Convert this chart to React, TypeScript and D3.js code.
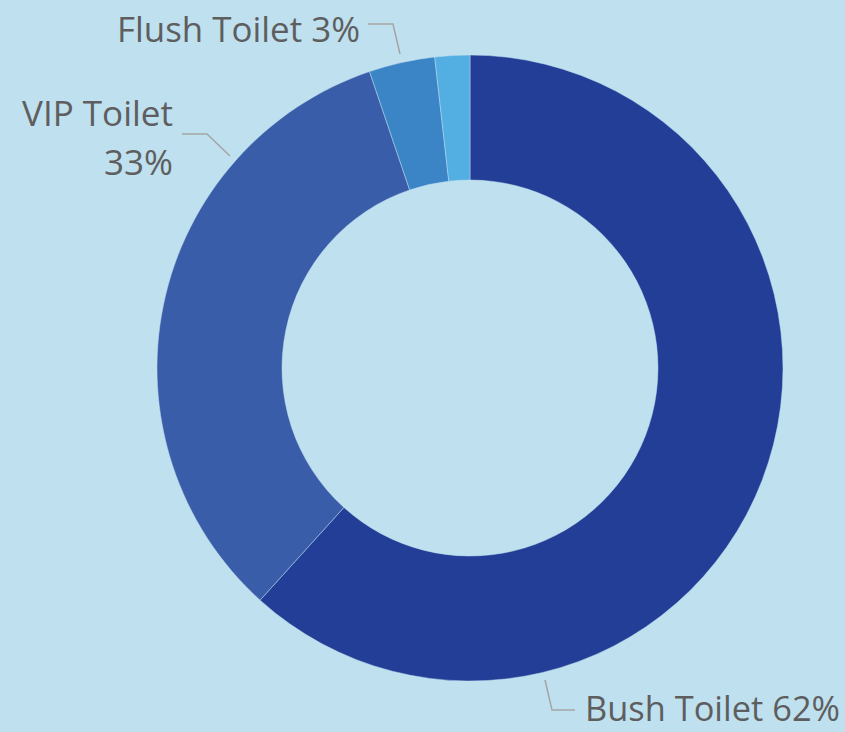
import React from "react";
import * as d3 from "d3";

const categories = ["Bush Toilet", "VIP Toilet", "Flush Toilet", "Other"];
const shares = [61.7, 33.1, 3.4, 1.8];
const colors = ["#233E97", "#3A5DAA", "#3B84C6", "#53AEE1"];
const showLabel = [true, true, true, false];

const W = 845;
const H = 732;
const CX = 470;
const CY = 368;
const R_OUT = 313;
const R_IN = 188;

// label layout (annotation placement, relative to the pie centre)
const labelLayout: Record<string, any> = {
  "Bush Toilet": {
    lines: (n: string, p: string) => [`${n} ${p}`],
    anchor: "start",
    x: 115, y: 353, width: 255, lineH: 49,
    leader: [[75, 312], [82, 342], [105, 342]],
  },
  "VIP Toilet": {
    lines: (n: string, p: string) => [n, p],
    anchor: "end",
    x: -297, y: -242, width: 151, lineH: 49,
    leader: [[-288, -234], [-263, -234], [-240, -212]],
  },
  "Flush Toilet": {
    lines: (n: string, p: string) => [`${n} ${p}`],
    anchor: "end",
    x: -110, y: -326, width: 243, lineH: 49,
    leader: [[-102, -344], [-77, -344], [-70, -314]],
  },
};

export default function App() {
  const data = categories.map((c, i) => ({ name: c, value: shares[i], color: colors[i], show: showLabel[i] }));
  const total = d3.sum(shares);
  const pie = d3.pie<any>().sort(null).value((d) => d.value).startAngle(0).endAngle(2 * Math.PI);
  const arcs = pie(data);
  const arc = d3.arc<any>().innerRadius(R_IN).outerRadius(R_OUT);
  const line = d3.line();
  const fmt = (v: number) => `${Math.round((v / total) * 100)}%`;

  return (
    <svg
      width={W}
      height={H}
      style={{ position: "absolute", left: 0, top: 0, display: "block" }}
      fontFamily="'Open Sans', 'Noto Sans', sans-serif"
    >
      <rect width={W} height={H} fill="#BFE0EF" />
      <g transform={`translate(${CX},${CY})`}>
        {arcs.map((a, i) => (
          <path key={i} d={arc(a) as string} fill={a.data.color} stroke="#BFE0EF" strokeOpacity={0.6} strokeWidth={0.8} />
        ))}
        {arcs.map((a, i) => {
          if (!a.data.show) return null;
          const L = labelLayout[a.data.name];
          const lines = L.lines(a.data.name, fmt(a.data.value));
          return (
            <g key={"l" + i}>
              <path d={line(L.leader) as string} fill="none" stroke="#A5A5A5" strokeWidth={1.5} />
              {lines.map((t: string, j: number) => (
                <text
                  key={j}
                  x={L.x}
                  y={L.y + j * L.lineH}
                  textAnchor={L.anchor}
                  fontSize={35}
                  fill="#5E5E5E"
                  textLength={j === 0 ? L.width : undefined}
                  lengthAdjust="spacingAndGlyphs"
                >
                  {t}
                </text>
              ))}
            </g>
          );
        })}
      </g>
    </svg>
  );
}
